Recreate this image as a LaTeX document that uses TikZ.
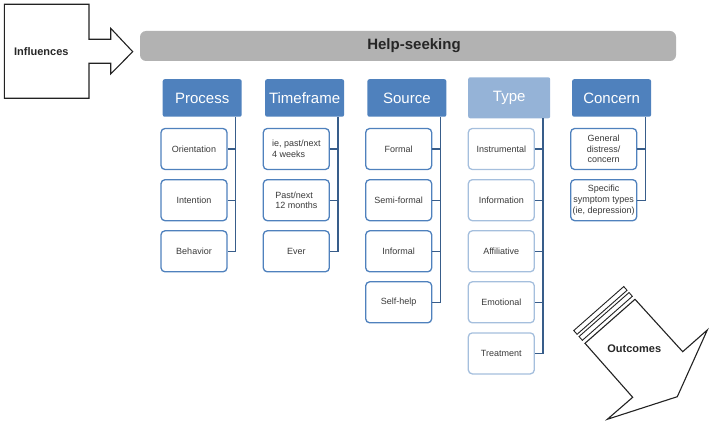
\documentclass[tikz,border=0pt]{standalone}
\usepackage{fontspec}
\setmainfont{Liberation Sans}
\definecolor{hdrblue}{HTML}{4F81BD}
\definecolor{hdrlight}{HTML}{95B3D7}
\definecolor{childline}{HTML}{4F81BD}
\definecolor{childlight}{HTML}{A5BFDD}
\definecolor{connblue}{HTML}{385D8A}
\definecolor{txtgray}{HTML}{3A3A3A}
\definecolor{bargray}{HTML}{B2B2B2}
\definecolor{outl}{HTML}{222222}
\begin{document}
\begin{tikzpicture}[x=1pt,y=-1pt,
  hdrbox/.style={fill=hdrblue, draw=none, rounded corners=2pt, minimum width=79pt, minimum height=37.5pt,
    text=white, font=\fontsize{15}{18}\selectfont, inner sep=0pt},
  hdrboxlight/.style={hdrbox, fill=hdrlight, minimum width=82pt, minimum height=41pt},
  childbox/.style={draw=childline, line width=1.3pt, fill=white, rounded corners=4pt, minimum width=66pt,
    minimum height=41pt, text=txtgray, font=\fontsize{9}{10.7}\selectfont, inner sep=1pt, align=center},
  childboxlight/.style={childbox, draw=childlight},
  conn/.style={draw=connblue, line width=1.3pt},
  outline/.style={draw=outl, line width=1.1pt, line join=miter},
  bigtxt/.style={font=\bfseries\fontsize{11}{13}\selectfont, text=black!85, inner sep=0pt}
]
\useasboundingbox (0,0) rectangle (713,425);

% Influences arrow
\draw[outline] (4.3,4.3) -- (89,4.3) -- (89,39.3) -- (110.7,39.3) -- (110.7,28.3) -- (132.7,51.7)
  -- (110.7,74) -- (110.7,63.3) -- (89,63.3) -- (89,98.3) -- (4.3,98.3) -- cycle;
\node[bigtxt] (infl) at (41.3,51.7) {Influences};

% Help-seeking bar
\node[fill=bargray, rounded corners=6pt, minimum width=536pt, minimum height=30pt, inner sep=0pt,
  font=\bfseries\fontsize{15}{18}\selectfont, text=black!85] (hs) at (408,46) {\hspace{12pt}Help-seeking};

% Headers
\node[hdrbox] (ph) at (202.2,98) {Process};
\node[hdrbox] (th) at (304.6,98) {Timeframe};
\node[hdrbox] (sh) at (406.9,98) {Source};
\node[hdrboxlight] (yh) at (509.2,97.8) {Type};
\node[hdrbox] (ch) at (611.6,98) {Concern};

% Process
\node[childbox] (p1) at (194,149) {Orientation};
\node[childbox] (p2) at (194,200.2) {Intention};
\node[childbox] (p3) at (194,251.3) {Behavior};
% Timeframe
\node[childbox, align=left] (t1) at (296.3,149) {ie, past/next\\4 weeks};
\node[childbox, align=left] (t2) at (296.3,200.2) {Past/next\\12 months};
\node[childbox] (t3) at (296.3,251.3) {Ever};
% Source
\node[childbox] (s1) at (398.7,149) {Formal};
\node[childbox] (s2) at (398.7,200.2) {Semi-formal};
\node[childbox] (s3) at (398.7,251.3) {Informal};
\node[childbox] (s4) at (398.7,302.3) {Self-help};
% Type
\node[childboxlight] (y1) at (501.3,149) {Instrumental};
\node[childboxlight] (y2) at (501.3,200.2) {Information};
\node[childboxlight] (y3) at (501.3,251.3) {Affiliative};
\node[childboxlight] (y4) at (501.3,302.3) {Emotional};
\node[childboxlight] (y5) at (501.3,353.4) {Treatment};
% Concern
\node[childbox] (c1) at (603.7,149) {General\\distress/\\concern};
\node[childbox] (c2) at (603.7,200.2) {Specific\\symptom types\\(ie, depression)};

% Connectors
\draw[conn] (p1.east) -- ++(8,0) coordinate (pl);
\draw[conn] (p2.east) -- (p2.east -| pl);
\draw[conn] (ph.south -| pl) |- (p3.east);

\draw[conn] (t1.east) -- ++(8,0) coordinate (tl);
\draw[conn] (t2.east) -- (t2.east -| tl);
\draw[conn] (th.south -| tl) |- (t3.east);

\draw[conn] (s1.east) -- ++(8,0) coordinate (sl);
\draw[conn] (s2.east) -- (s2.east -| sl);
\draw[conn] (s3.east) -- (s3.east -| sl);
\draw[conn] (sh.south -| sl) |- (s4.east);

\draw[conn] (y1.east) -- ++(8,0) coordinate (yl);
\draw[conn] (y2.east) -- (y2.east -| yl);
\draw[conn] (y3.east) -- (y3.east -| yl);
\draw[conn] (y4.east) -- (y4.east -| yl);
\draw[conn] (yh.south -| yl) |- (y5.east);

\draw[conn] (c1.east) -- ++(8,0) coordinate (cl);
\draw[conn] (ch.south -| cl) |- (c2.east);

% Outcomes arrow
\draw[outline] (585,343.3) -- (635,299.3) -- (682.7,351.7) -- (707.3,330) -- (677.3,396.7)
  -- (607.3,419.3) -- (632.7,397.3) -- cycle;
\draw[outline, line width=0.9pt] (582.35,340.3) -- (632.35,296.3) -- (629.04,292.55) -- (579.04,336.55) -- cycle;
\draw[outline, line width=0.9pt] (577.06,334.3) -- (627.06,290.3) -- (623.75,286.55) -- (573.75,330.55) -- cycle;
\node[bigtxt] (outc) at (634.3,349) {Outcomes};
\end{tikzpicture}
\end{document}
